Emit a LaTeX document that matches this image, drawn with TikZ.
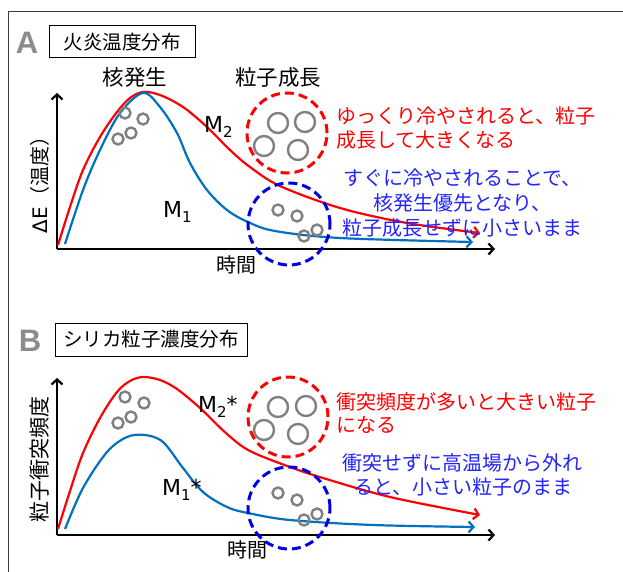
\documentclass[tikz,border=0pt]{standalone}
\usepackage{fontspec}
\setmainfont{Noto Sans CJK JP}
\newfontfamily\panelfont{Liberation Sans}
\newfontfamily\latfont{DejaVu Sans}
\usetikzlibrary{arrows.meta}
\definecolor{myred}{RGB}{255,0,0}
\definecolor{curveblue}{RGB}{0,112,192}
\definecolor{dashblue}{RGB}{0,0,230}
\definecolor{textblue}{RGB}{35,35,255}
\definecolor{mygray}{RGB}{128,128,128}
\definecolor{panelgray}{RGB}{140,140,140}
\definecolor{framegray}{RGB}{60,60,60}
\tikzset{
  fs/.style={font=\fontsize{#1}{#1}\selectfont},
  lbl/.style={inner sep=0pt, fs=20},
  panel/.style={inner sep=0pt, text=panelgray, font=\panelfont\bfseries\fontsize{31}{31}\selectfont},
  titlebox/.style={draw, line width=1pt, inner sep=0pt, fs=19.5},
  axis/.style={line width=2.2pt, -{Straight Barb[length=5pt,width=11pt]}},
  curve/.style={line width=2.2pt, -{Straight Barb[length=5pt,width=11pt]}},
  smallc/.style={circle, draw=mygray, line width=2.4pt, minimum size=11pt, inner sep=0pt},
  bigc/.style={circle, draw=mygray, line width=2.4pt, minimum size=20pt, inner sep=0pt},
  reddash/.style={circle, draw=myred, line width=3pt, dash pattern=on 9pt off 5pt, minimum size=80pt, inner sep=0pt},
  bluedash/.style={circle, draw=dashblue, line width=3pt, dash pattern=on 9pt off 5pt, minimum size=82pt, inner sep=0pt},
  redtext/.style={lbl, text=myred, anchor=west},
  bluetext/.style={lbl, text=textblue, anchor=west},
  mlabel/.style={inner sep=0pt, anchor=base west, font=\latfont\fontsize{22}{22}\selectfont},
}
\newcommand{\msub}[1]{\raisebox{-5pt}{\fontsize{15}{15}\selectfont #1}}
\begin{document}
\begin{tikzpicture}[x=1pt,y=-1pt]
\useasboundingbox (0,0) rectangle (623,572);
\draw[framegray, line width=1pt] (8,572) -- (8,12) -- (623,12);

% ---------------- Panel A ----------------
\node[panel] (lA) at (27,43) {A};
\node[titlebox, minimum width=146pt, minimum height=32pt] (tA) at (122,42) {火炎温度分布};
\node[lbl, fs=21.5] (nucA) at (135,77) {核発生};
\node[lbl, fs=21.5] (growA) at (278,77) {粒子成長};

\coordinate (oA) at (57,249);
\coordinate (yA) at (57,93);
\coordinate (xA) at (495,249);
\draw[axis] (oA) -- (yA);
\draw[axis] (oA) -- (xA);
\node[lbl, rotate=90] (ylA) at (40,180) {{\latfont ΔE}（温度）};
\node[lbl] (tmA) at (236,265) {時間};

\draw[curve, myred] plot[smooth, tension=0.55] coordinates {
  (58,245) (70,207) (83,170) (100,137) (117,112) (130,98) (143,92)
  (160,95) (183,107) (207,127) (230,150) (250,167) (280,186) (340,208) (407,223) (480,233)};
\draw[curve, curveblue] plot[smooth, tension=0.55] coordinates {
  (65,244) (83,190) (100,150) (120,113) (143,93) (160,107) (177,133)
  (190,163) (207,190) (227,210) (248,222) (275,231) (340,238) (473,242)};

\node[smallc] (a1) at (125,113) {};
\node[smallc] (a2) at (143,119) {};
\node[smallc] (a3) at (131,133) {};
\node[smallc] (a4) at (118,139) {};

\node[reddash] (rcA) at (287,133) {};
\node[bigc] (A1) at (278,123) {};
\node[bigc] (A2) at (305,122) {};
\node[bigc] (A3) at (264,146) {};
\node[bigc] (A4) at (298,150) {};

\node[bluedash] (bcA) at (289,224) {};
\node[smallc] (a5) at (278,210) {};
\node[smallc] (a6) at (297,216) {};
\node[smallc] (a7) at (317,230) {};
\node[smallc] (a8) at (304,236) {};

\node[mlabel] (m2A) at (204,133) {M\msub{2}};
\node[mlabel] (m1A) at (163,217) {M\msub{1}};

\node[redtext] (r1A) at (336,116) {ゆっくり冷やされると、粒子};
\node[redtext] (r2A) at (336,140) {成長して大きくなる};
\node[bluetext] (b1A) at (343,178) {すぐに冷やされることで、};
\node[bluetext] (b2A) at (373,203) {核発生優先となり、};
\node[bluetext] (b3A) at (342,228) {粒子成長せずに小さいまま};

% ---------------- Panel B ----------------
\node[panel] (lB) at (30,341) {B};
\node[titlebox, minimum width=192pt, minimum height=33pt] (tB) at (151,339.5) {シリカ粒子濃度分布};

\coordinate (oB) at (57,535);
\coordinate (yB) at (57,378);
\coordinate (xB) at (495,535);
\draw[axis] (oB) -- (yB);
\draw[axis] (oB) -- (xB);
\node[lbl, rotate=90, fs=21] (ylB) at (40,459) {粒子衝突頻度};
\node[lbl] (tmB) at (247,550) {時間};

\draw[curve, myred] plot[smooth, tension=0.55] coordinates {
  (58,529) (70,491) (83,453) (100,418) (117,392) (130,381) (143,377)
  (160,380) (177,389) (200,408) (227,434) (250,451) (290,467) (323,478) (390,497) (480,515)};
\draw[curve, curveblue] plot[smooth, tension=0.55] coordinates {
  (65,529) (83,488) (107,452) (127,437) (145,435) (163,442) (183,468)
  (203,492) (227,507) (248,513) (290,520) (373,525) (475,527)};

\node[smallc] (b1) at (125,397) {};
\node[smallc] (b2) at (144,403) {};
\node[smallc] (b3) at (131,417) {};
\node[smallc] (b4) at (118,423) {};

\node[reddash] (rcB) at (288,417) {};
\node[bigc] (B1) at (278,407) {};
\node[bigc] (B2) at (306,406) {};
\node[bigc] (B3) at (264,430) {};
\node[bigc] (B4) at (298,434) {};

\node[bluedash] (bcB) at (289,508) {};
\node[smallc] (b5) at (278,493) {};
\node[smallc] (b6) at (297,500) {};
\node[smallc] (b7) at (317,514) {};
\node[smallc] (b8) at (304,520) {};

\node[mlabel] (m2B) at (198,412) {M\msub{2}*};
\node[mlabel] (m1B) at (162,495) {M\msub{1}*};

\node[redtext] (r1B) at (336,402) {衝突頻度が多いと大きい粒子};
\node[redtext] (r2B) at (336,425) {になる};
\node[bluetext] (b1B) at (342,463) {衝突せずに高温場から外れ};
\node[bluetext] (b2B) at (353,487) {ると、小さい粒子のまま};
\end{tikzpicture}
\end{document}
